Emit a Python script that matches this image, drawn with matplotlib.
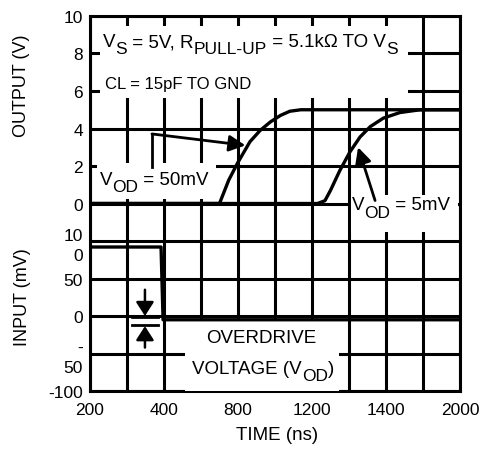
import matplotlib.pyplot as plt
from matplotlib.patches import Rectangle

plt.rcParams['font.family'] = ['Liberation Sans', 'DejaVu Sans']

# output traces (V) for the two overdrive levels, time axis in ns
t_50mv = [0, 700, 750, 800, 865, 920, 975, 1030, 1080, 1140, 2000]
v_50mv = [0, 0, 1.25, 2.2, 3.3, 3.9, 4.35, 4.7, 4.92, 5.0, 5.0]
t_5mv = [0, 1230, 1270, 1300, 1350, 1405, 1460, 1515, 1585, 1675, 1785, 2000]
v_5mv = [0, 0, 0.15, 0.7, 1.75, 2.75, 3.55, 4.1, 4.55, 4.85, 5.0, 5.0]

# input step (mV)
t_in = [0, 384, 395, 2000]
v_in = [92, 92, -5, -5]

x_ticks = [0, 400, 800, 1200, 1600, 2000]
x_labels = ['200', '400', '800', '1200', '1400', '2000']
out_ticks = [0, 2, 4, 6, 8, 10]
out_labels = ['0', '2', '4', '6', '8', '10']
in_ticks = [100, 50, 0, -50, -100]
in_labels = ['10\n0', '50', '0', '-\n50', '-100']

LW = 2.2
FS = 13.5

fig = plt.figure(figsize=(4.79, 4.52), dpi=100)
ax = fig.add_axes([0.1879, 0.1327, 0.7724, 0.8297])
ax.set_xlim(0, 2000)
ax.set_ylim(-10, 10)
ax.set_xticks(x_ticks, x_labels)
ax.set_xticks(range(200, 2000, 400), minor=True)
ax.set_yticks(out_ticks, out_labels)
ax.set_yticks([-2, -4, -6, -8, -10], minor=True)
ax.set_axisbelow(True)
ax.grid(which='both', color='k', lw=LW)
ax.tick_params(which='both', length=0, labelsize=12.5)
ax.tick_params(axis='x', pad=8)
ax.tick_params(axis='y', pad=5)
for s in ax.spines.values():
    s.set_linewidth(LW)

ax.plot(t_50mv, v_50mv, color='k', lw=2.4, zorder=3, solid_joinstyle='round')
ax.plot(t_5mv, v_5mv, color='k', lw=2.4, zorder=3, solid_joinstyle='round')

# white areas behind the notes
for x0, y0, w, h in [(0.027, 0.781, 0.832, 0.192),
                     (0.019, 0.512, 0.322, 0.096),
                     (0.705, 0.424, 0.290, 0.099),
                     (0.257, 0.0, 0.416, 0.187)]:
    ax.add_patch(Rectangle((x0, y0), w, h, transform=ax.transAxes,
                           facecolor='white', edgecolor='none', zorder=2.6))


def rich_text(x, y, parts, size=FS, sub_size=FS - 1, sub_drop=-4.5):
    # parts: (text, is_subscript) placed one after the other
    base = ax.text(x, y, parts[0][0], transform=ax.transAxes, fontsize=size,
                   va='bottom', ha='left', zorder=4)
    prev = base
    for s, sub in parts[1:]:
        prev = ax.annotate(s, xy=(1, 0), xycoords=(prev, base),
                           xytext=(0, sub_drop if sub else 0), textcoords='offset points',
                           fontsize=sub_size if sub else size, va='bottom', ha='left',
                           zorder=4)
    return base


rich_text(0.035, 0.909, [('V', False), ('S', True), (' = 5V, R', False),
                         ('PULL-UP', True), (' = 5.1k\u03a9 TO V', False), ('S', True)])
ax.text(0.041, 0.821, 'CL = 15pF TO GND', transform=ax.transAxes, fontsize=12,
        va='center', ha='left', zorder=4)
rich_text(0.027, 0.541, [('V', False), ('OD', True), (' = 50mV', False)])
rich_text(0.708, 0.474, [('V', False), ('OD', True), (' = 5mV', False)])
ax.text(0.463, 0.144, 'OVERDRIVE', transform=ax.transAxes, fontsize=FS,
        va='center', ha='center', zorder=4)
rich_text(0.276, 0.037, [('VOLTAGE (V', False), ('OD', True), (')', False)])

# leader arrows
ax.plot([335, 335], [1.94, 3.71], color='k', lw=2.0, zorder=3)
ax.annotate('', xy=(840, 3.1), xytext=(335, 3.71),
            arrowprops=dict(arrowstyle='-|>,head_length=0.7,head_width=0.35',
                            mutation_scale=14, lw=2.0, color='k',
                            shrinkA=0, shrinkB=0), zorder=3)
ax.annotate('', xy=(1449, 3.0), xytext=(1541, 0.16),
            arrowprops=dict(arrowstyle='-|>,head_length=0.7,head_width=0.35',
                            mutation_scale=14, lw=2.0, color='k',
                            shrinkA=0, shrinkB=0), zorder=5)

# input axis (mV): lower half of the same box, -100..150 mV
ax_in = ax.twinx()
ax_in.set_ylim(-100, 400)
ax_in.yaxis.tick_left()
ax_in.set_yticks(in_ticks, in_labels)
ax_in.tick_params(length=0, labelsize=12.5, pad=5)
for lab in ax_in.get_yticklabels():
    lab.set_linespacing(1.45)
for s in ax_in.spines.values():
    s.set_visible(False)
ax_in.plot(t_in, v_in, color='k', lw=2.4, zorder=3)

# overdrive marker
ax_in.plot([227, 368], [-1, -1], color='k', lw=2.0)
ax_in.plot([227, 368], [-12.5, -12.5], color='k', lw=2.0)
ax_in.annotate('', xy=(297, 0), xytext=(297, 35),
               arrowprops=dict(arrowstyle='-|>,head_length=0.7,head_width=0.45',
                               mutation_scale=12, lw=1.8, color='k',
                               shrinkA=0, shrinkB=0))
ax_in.annotate('', xy=(297, -13.5), xytext=(297, -42),
               arrowprops=dict(arrowstyle='-|>,head_length=0.7,head_width=0.45',
                               mutation_scale=12, lw=1.8, color='k',
                               shrinkA=0, shrinkB=0))

fig.text(22 / 479, 1 - 86 / 452, 'OUTPUT (V)', rotation=90, fontsize=13,
         ha='center', va='center')
fig.text(23 / 479, 1 - 297 / 452, 'INPUT (mV)', rotation=90, fontsize=13,
         ha='center', va='center')
fig.text(277 / 479, 1 - 436 / 452, 'TIME (ns)', fontsize=13.5, ha='center', va='center')

fig.savefig('out.png', dpi=100)
